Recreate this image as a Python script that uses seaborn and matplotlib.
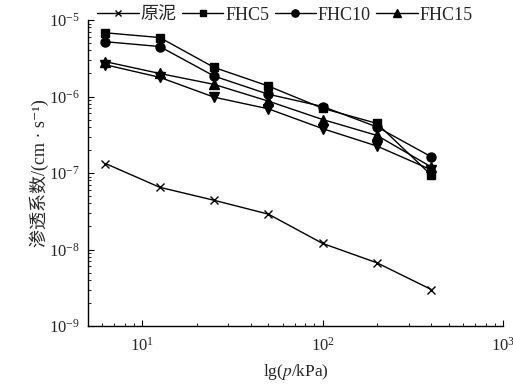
import numpy as np
import pandas as pd
import matplotlib
matplotlib.use("Agg")
import matplotlib.pyplot as plt
import seaborn as sns
from matplotlib.ticker import LogLocator, LogFormatterMathtext, NullFormatter

pressure = [6.25, 12.5, 25, 50, 100, 200, 400]
raw_mud = [1.33e-7, 6.5e-8, 4.4e-8, 2.9e-8, 1.2e-8, 6.7e-9, 3.0e-9]
fhc5 = [6.8e-6, 5.9e-6, 2.4e-6, 1.37e-6, 7.0e-7, 4.45e-7, 9.4e-8]
fhc10 = [5.2e-6, 4.5e-6, 1.85e-6, 1.07e-6, 7.4e-7, 4.0e-7, 1.63e-7]
fhc15 = [2.85e-6, 2.0e-6, 1.44e-6, 8.7e-7, 5.0e-7, 3.1e-7, 1.2e-7]
fhc20 = [2.6e-6, 1.78e-6, 9.8e-7, 6.9e-7, 3.8e-7, 2.25e-7, 1.1e-7]
labels = ["原泥", "FHC5", "FHC10", "FHC15", "_nolegend_"]
markers = ["x", "s", "o", "^", "v"]
sizes = [6, 6, 6.5, 7, 7]

sns.set_style("ticks")
plt.rcParams["font.family"] = ["Liberation Serif", "Noto Sans CJK SC", "DejaVu Sans"]
plt.rcParams["mathtext.fontset"] = "stix"
plt.rcParams["xtick.direction"] = "in"
plt.rcParams["ytick.direction"] = "in"

fig = plt.figure(figsize=(5.13, 3.92), dpi=100)
ax = fig.add_axes([88/513, 66/392, (503-88)/513, (326-20)/392])

series = [raw_mud, fhc5, fhc10, fhc15, fhc20]
handles = []
for vals, lab, mk, ms in zip(series, labels, markers, sizes):
    df = pd.DataFrame({"p": pressure, "k": vals})
    sns.lineplot(data=df, x="p", y="k", ax=ax, color="black", lw=1.0,
                 marker=mk, markersize=ms, markeredgecolor="black",
                 markerfacecolor="black", markeredgewidth=1.0, legend=False)
    handles.append(ax.lines[-1])

ax.set_xscale("log")
ax.set_yscale("log")
ax.set_xlim(5, 1000)
ax.set_ylim(1e-9, 1e-5)
sns.despine(ax=ax)
for s in ["left", "bottom"]:
    ax.spines[s].set_linewidth(1.0)
    ax.spines[s].set_color("black")

ax.xaxis.set_major_locator(LogLocator(base=10, numticks=10))
ax.yaxis.set_major_locator(LogLocator(base=10, numticks=10))
ax.xaxis.set_minor_locator(LogLocator(base=10, subs=np.arange(2, 10), numticks=20))
ax.yaxis.set_minor_locator(LogLocator(base=10, subs=np.arange(2, 10), numticks=20))
ax.xaxis.set_major_formatter(LogFormatterMathtext())
ax.yaxis.set_major_formatter(LogFormatterMathtext())
ax.xaxis.set_minor_formatter(NullFormatter())
ax.yaxis.set_minor_formatter(NullFormatter())
ax.tick_params(which="major", length=4, width=0.8, labelsize=12, color="black")
ax.tick_params(which="minor", length=2.5, width=0.6, color="black")
ax.tick_params(axis="x", pad=8)
ax.tick_params(axis="y", pad=6)

ax.set_xlabel("lg($p$/kPa)", fontsize=12.5, labelpad=5)
ax.set_ylabel("渗透系数/(cm · s⁻¹)", fontsize=13,
              family=["Liberation Serif", "Noto Sans CJK SC", "DejaVu Sans"])
ax.yaxis.set_label_coords(-0.095, 0.5)

fig.legend(handles[:4], labels[:4], loc="center left",
           bbox_to_anchor=(97/513, 1 - 15/392), ncol=4, frameon=False,
           fontsize=13, handlelength=2.3, handletextpad=0.1,
           columnspacing=0.3, borderpad=0, borderaxespad=0, markerscale=0.8)

fig.savefig("out.png", dpi=100)
